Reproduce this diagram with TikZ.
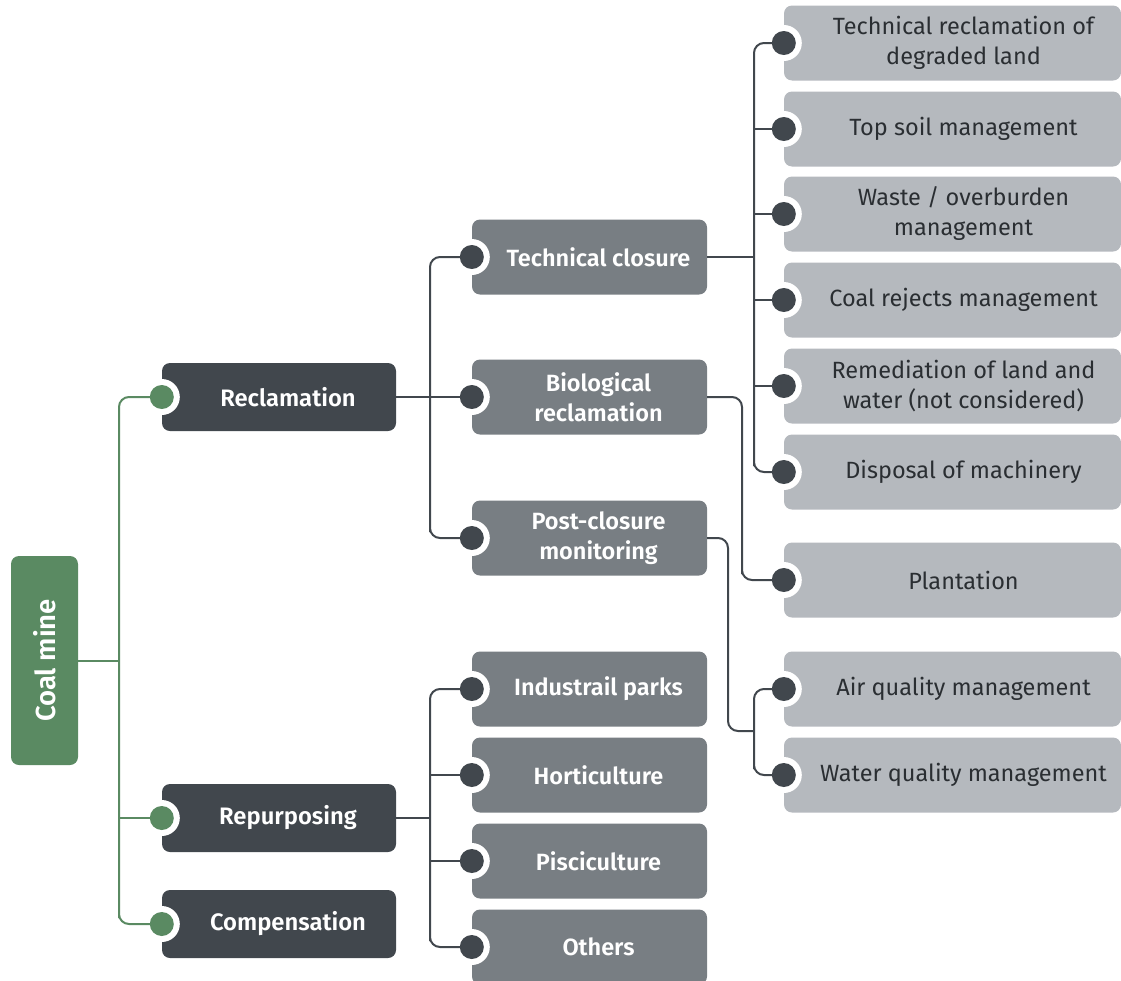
\documentclass[tikz,border=0pt]{standalone}
\usepackage{fontspec}
\setmainfont{Fira Sans}[BoldFont={Fira Sans SemiBold}]
\usetikzlibrary{calc}
\definecolor{cgreen}{HTML}{5A8A62}
\definecolor{cdark}{HTML}{41474D}
\definecolor{cmid}{HTML}{787E83}
\definecolor{clight}{HTML}{B5B9BE}
\definecolor{ctext}{HTML}{2A2E32}
\tikzset{
  box/.style={rectangle, rounded corners=8pt, inner sep=0pt, align=center},
  lvlone/.style={box, fill=cdark, minimum width=234pt, minimum height=68pt},
  lvltwo/.style={box, fill=cmid, minimum width=235pt, minimum height=75pt},
  lvlthree/.style={box, fill=clight, minimum width=337pt, minimum height=75pt},
  txtone/.style={inner sep=0pt, align=center, text=white, font=\bfseries\fontsize{23.8}{30}\selectfont},
  txttwo/.style={inner sep=0pt, align=center, text=white, font=\bfseries\fontsize{23.5}{30}\selectfont},
  txtthree/.style={inner sep=0pt, align=center, text=ctext, font=\fontsize{23.5}{30}\selectfont},
  root/.style={box, fill=cgreen, minimum width=67pt, minimum height=209pt},
  gline/.style={draw=cgreen, line width=2pt, rounded corners=10pt},
  dline/.style={draw=cdark, line width=2pt, rounded corners=10pt},
}
% #1 level, #2 name, #3 x, #4 y, #5 shift, #6 text
\newcommand{\mkbox}[6]{%
  \node[lvl#1] (#2) at (#3,#4) {};
  \node[txt#1] (#2-t) at ([xshift=#5pt]#2.center) {#6};
}
\begin{document}
\begin{tikzpicture}[x=1pt,y=-1pt]
\useasboundingbox (0,0) rectangle (1121,980);
\begin{scope}
\clip (0,0) rectangle (1121,980);
% root
\node[root] (coal) at (44.5,660.5) {};
\node[rotate=90, text=white, font=\bfseries\fontsize{27.5}{30}\selectfont] (coallbl) at (coal.center) {Coal mine};
% level 1
\mkbox{one}{rec}{279}{397}{9}{Reclamation}
\mkbox{one}{rep}{279}{818}{9}{Repurposing}
\mkbox{one}{comp}{279}{924}{9}{Compensation}
% level 2
\mkbox{two}{tc}{589.5}{257}{9}{Technical closure}
\mkbox{two}{bio}{589.5}{397}{9}{Biological\\reclamation}
\mkbox{two}{pcm}{589.5}{538}{9}{Post-closure\\monitoring}
\mkbox{two}{ip}{589.5}{689}{9}{Industrail parks}
\mkbox{two}{hort}{589.5}{775}{9}{Horticulture}
\mkbox{two}{pisc}{589.5}{861}{9}{Pisciculture}
\mkbox{two}{oth}{589.5}{947}{9}{Others}
% level 3
\mkbox{three}{ta}{952.5}{43}{11}{Technical reclamation of\\degraded land}
\mkbox{three}{tb}{952.5}{129}{11}{Top soil management}
\mkbox{three}{tcc}{952.5}{214}{11}{Waste / overburden\\management}
\mkbox{three}{td}{952.5}{300}{11}{Coal rejects management}
\mkbox{three}{te}{952.5}{386}{11}{Remediation of land and\\water (not considered)}
\mkbox{three}{tf}{952.5}{472}{11}{Disposal of machinery}
\mkbox{three}{pl}{952.5}{580}{11}{Plantation}
\mkbox{three}{air}{952.5}{689}{11}{Air quality management}
\mkbox{three}{wat}{952.5}{775}{11}{Water quality management}
% white rings
\foreach \n in {rec,rep,comp,tc,bio,pcm,ip,hort,pisc,oth,ta,tb,tcc,td,te,tf,pl,air,wat}
  \fill[white] (\n.west) circle (18pt);
% junction coordinates
\coordinate (gx) at (119,0);
\coordinate (ax) at (430,0);
\coordinate (bx) at (754,0);
\coordinate (cx) at (742,0);
\coordinate (dx) at (728,0);
% green connectors
\draw[gline] (rec.west) -| (comp.west -| gx) |- (comp.west);
\draw[gline] (coal.east) -- (coal.east -| gx);
\draw[gline] (rep.west -| gx) -- (rep.west);
% reclamation
\draw[dline] (rec.east) -- (bio.west);
\draw[dline] (tc.west) -| (pcm.west -| ax) |- (pcm.west);
% repurposing
\draw[dline] (rep.east) -- (rep.east -| ax);
\draw[dline] (ip.west) -| (oth.west -| ax) |- (oth.west);
\draw[dline] (hort.west -| ax) -- (hort.west);
\draw[dline] (pisc.west -| ax) -- (pisc.west);
% technical closure
\draw[dline] (tc.east) -- (tc.east -| bx);
\draw[dline] (ta.west) -| (tf.west -| bx) |- (tf.west);
\foreach \n in {tb,tcc,td,te} \draw[dline] (\n.west -| bx) -- (\n.west);
% biological
\draw[dline] (bio.east) -| (pl.west -| cx) |- (pl.west);
% post-closure
\coordinate (pj) at (754,731);
\draw[dline] (pcm.east) -| (pj -| dx) -- (pj);
\draw[dline] (air.west) -| (wat.west -| bx) |- (wat.west);
% dots
\foreach \n in {rec,rep,comp} \fill[cgreen] (\n.west) circle (12pt);
\foreach \n in {tc,bio,pcm,ip,hort,pisc,oth,ta,tb,tcc,td,te,tf,pl,air,wat}
  \fill[cdark] (\n.west) circle (12pt);
\end{scope}
\end{tikzpicture}
\end{document}
